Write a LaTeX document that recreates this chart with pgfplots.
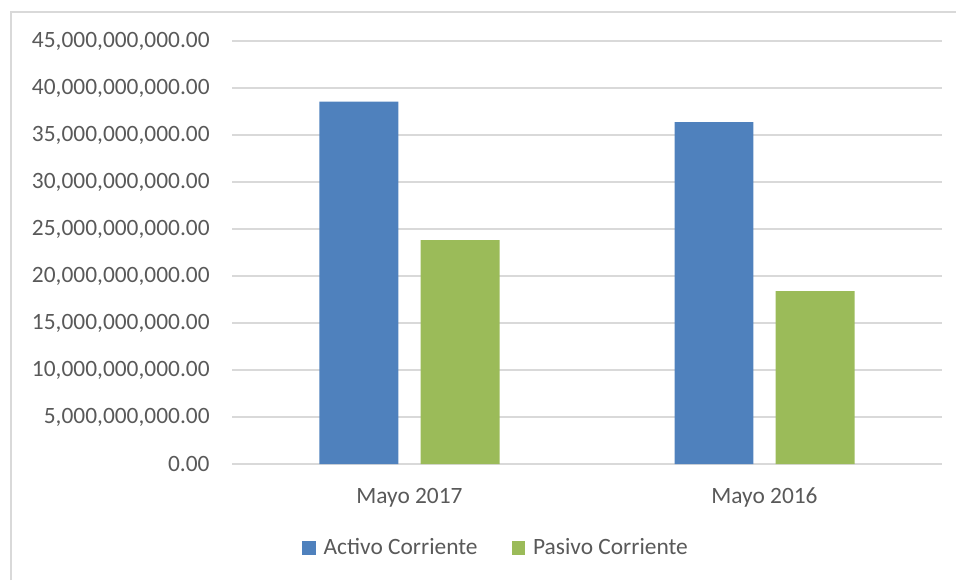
\documentclass[border=0pt]{standalone}
\usepackage{pgfplots}
\pgfplotsset{compat=1.18}
\usepackage{fontspec}
\setmainfont{Carlito}
\definecolor{barblue}{HTML}{4F81BD}
\definecolor{bargreen}{HTML}{9BBB59}
\definecolor{gridgray}{HTML}{D9D9D9}
\definecolor{txtgray}{HTML}{595959}
\begin{document}
\fontsize{11.7}{14}\selectfont
\begin{tikzpicture}
\useasboundingbox (0,0) rectangle (478pt,290pt);
\draw[gridgray, line width=0.9pt] (5.5pt,0) -- (5.5pt,284pt) -- (478pt,284pt);
\begin{axis}[
  at={(116pt,58pt)}, anchor=south west,
  scale only axis, width=355pt, height=211.5pt,
  ymin=0, ymax=45000000000,
  xmin=-0.5, xmax=1.5,
  scaled y ticks=false,
  axis line style={draw=none},
  major tick length=0pt,
  ytick={0,5000000000,10000000000,15000000000,20000000000,25000000000,30000000000,35000000000,40000000000,45000000000},
  yticklabels={{0.00},{5,000,000,000.00},{10,000,000,000.00},{15,000,000,000.00},{20,000,000,000.00},{25,000,000,000.00},{30,000,000,000.00},{35,000,000,000.00},{40,000,000,000.00},{45,000,000,000.00}},
  xtick={0,1},
  xticklabels={Mayo 2017, Mayo 2016},
  ymajorgrids,
  grid style={gridgray, line width=0.7pt},
  tick label style={font=\fontsize{11.7}{14}\selectfont, text=txtgray},
  yticklabel style={anchor=east, inner sep=0pt, xshift=-11pt},
  xticklabel style={anchor=base, inner sep=0pt, yshift=-19.5pt},
  ybar, bar width=0.2225,
  legend columns=2,
  legend style={draw=none, fill=none, at={(131.5pt,-42pt)}, anchor=center,
    font=\fontsize{11.7}{14}\selectfont, text=txtgray,
    nodes={inner sep=0pt},
    /tikz/every odd column/.append style={column sep=4pt},
    /tikz/every even column/.append style={column sep=17pt}},
  legend image code/.code={\fill[#1] (0pt,-3.375pt) rectangle (6.75pt,3.375pt);},
]
\addplot[fill=barblue, draw=none, bar shift=-0.1423] coordinates {(0,38550000000) (1,36380000000)};
\addplot[fill=bargreen, draw=none, bar shift=0.1423] coordinates {(0,23830000000) (1,18380000000)};
\legend{Activo Corriente, Pasivo Corriente}
\end{axis}
\end{tikzpicture}
\end{document}
